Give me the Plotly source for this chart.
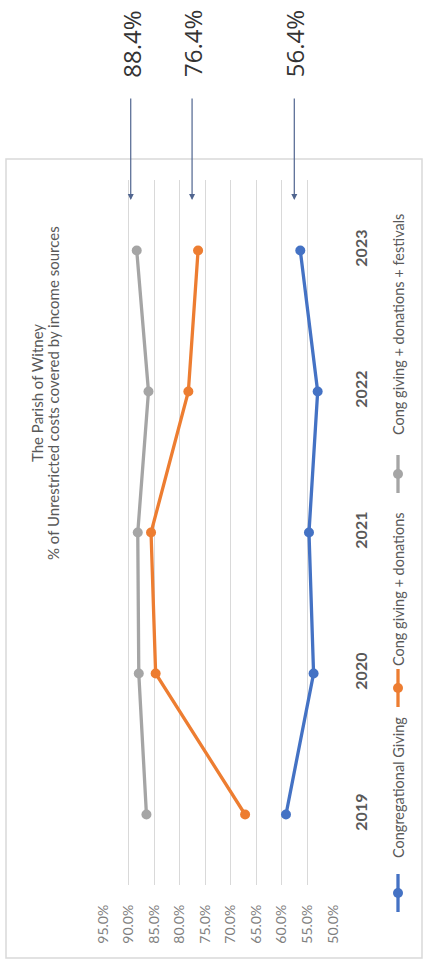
import plotly.graph_objects as go

years = ["2019", "2020", "2021", "2022", "2023"]
cong_giving = [59.2, 53.8, 54.7, 53.0, 56.4]
cong_donations = [67.2, 84.7, 85.6, 78.3, 76.4]
cong_festivals = [86.5, 88.0, 88.2, 86.1, 88.4]
series_names = ["Congregational Giving", "Cong giving + donations",
                "Cong giving + donations + festivals"]
series_colors = ["#4472C4", "#ED7D31", "#A5A5A5"]
callout_values = [88.4, 76.4, 56.4]
callout_labels = ["88.4%", "76.4%", "56.4%"]
x_ticks = [95, 90, 85, 80, 75, 70, 65, 60, 55, 50]
x_tick_labels = ["95.0%", "90.0%", "85.0%", "80.0%", "75.0%", "70.0%",
                 "65.0%", "60.0%", "55.0%", "50.0%"]
title_lines = ["The Parish of Witney",
               "% of Unrestricted costs covered by income sources"]

W, H = 426, 962
L, R, T, B = 103, 93, 180, 77
pw, ph = W - L - R, H - T - B

def px_x(p):
    return (p - L) / pw

def px_y(p):
    return (H - B - p) / ph

fig = go.Figure()
for name, vals, col in zip(series_names, [cong_giving, cong_donations, cong_festivals], series_colors):
    fig.add_trace(go.Scatter(
        x=vals, y=years, mode="lines+markers", name=name,
        line=dict(color=col, width=3.3),
        marker=dict(color=col, size=10, symbol="circle"),
        showlegend=False,
    ))

TEXT = "#595959"
fig.update_layout(
    width=W, height=H,
    margin=dict(l=L, r=R, t=T, b=B, pad=0),
    paper_bgcolor="white", plot_bgcolor="white",
    xaxis=dict(
        range=[95, 50], tickvals=x_ticks, ticktext=x_tick_labels,
        tickangle=-90, showgrid=True, gridcolor="#d9d9d9", gridwidth=1,
        zeroline=False, showline=False, ticks="",
        tickfont=dict(family="Lato", size=14, color="#7f7f7f"),
        ticklabelstandoff=16,
    ),
    yaxis=dict(
        type="category", categoryorder="array", categoryarray=years,
        range=[-0.5, 4.5], side="right", tickangle=-90,
        showgrid=False, zeroline=False, showline=False, ticks="",
        tickfont=dict(family="Lato", size=16, color=TEXT, weight="bold"),
        ticklabelstandoff=17,
    ),
    showlegend=False,
)

# chart border
fig.add_shape(type="rect", xref="paper", yref="paper",
              x0=px_x(6), x1=px_x(422), y0=px_y(958), y1=px_y(159),
              line=dict(color="#d9d9d9", width=1.5), layer="below")

# title (two rotated lines)
for line, xc in zip(title_lines, [37, 53]):
    fig.add_annotation(xref="paper", yref="paper", x=px_x(xc), y=px_y(393),
                       xanchor="center", yanchor="middle",
                       text=line, textangle=-90, showarrow=False,
                       font=dict(family="Lato", size=15, color=TEXT))

# callouts
for v, lab in zip(callout_values, callout_labels):
    fig.add_annotation(x=v, xref="x", y=px_y(200), yref="paper", xshift=-6,
                       text="", showarrow=True, ax=0, ay=-103,
                       arrowhead=2, arrowsize=1, arrowwidth=1.2, arrowcolor="#50658f")
    fig.add_annotation(x=v, xref="x", y=px_y(44), yref="paper", xshift=-5,
                       xanchor="center", yanchor="middle",
                       text=lab, textangle=-90, showarrow=False,
                       font=dict(family="Open Sans", size=24, color="#333333"))

# legend (rotated)
leg_x = 398
leg_items = [(893, 788), (688, 589), (474, 325)]
for (sym_c, txt_c), name, col in zip(leg_items, series_names, series_colors):
    fig.add_shape(type="line", xref="paper", yref="paper",
                  x0=px_x(leg_x), x1=px_x(leg_x), y0=px_y(sym_c - 19), y1=px_y(sym_c + 19),
                  line=dict(color=col, width=3.3))
    fig.add_shape(type="circle", xref="paper", yref="paper",
                  x0=px_x(leg_x - 5), x1=px_x(leg_x + 5), y0=px_y(sym_c + 5), y1=px_y(sym_c - 5),
                  line=dict(color=col, width=0), fillcolor=col)
    fig.add_annotation(xref="paper", yref="paper", x=px_x(leg_x), y=px_y(txt_c),
                       xanchor="center", yanchor="middle",
                       text=name, textangle=-90, showarrow=False,
                       font=dict(family="Lato", size=14.5, color=TEXT))

fig.write_html("out.html")
